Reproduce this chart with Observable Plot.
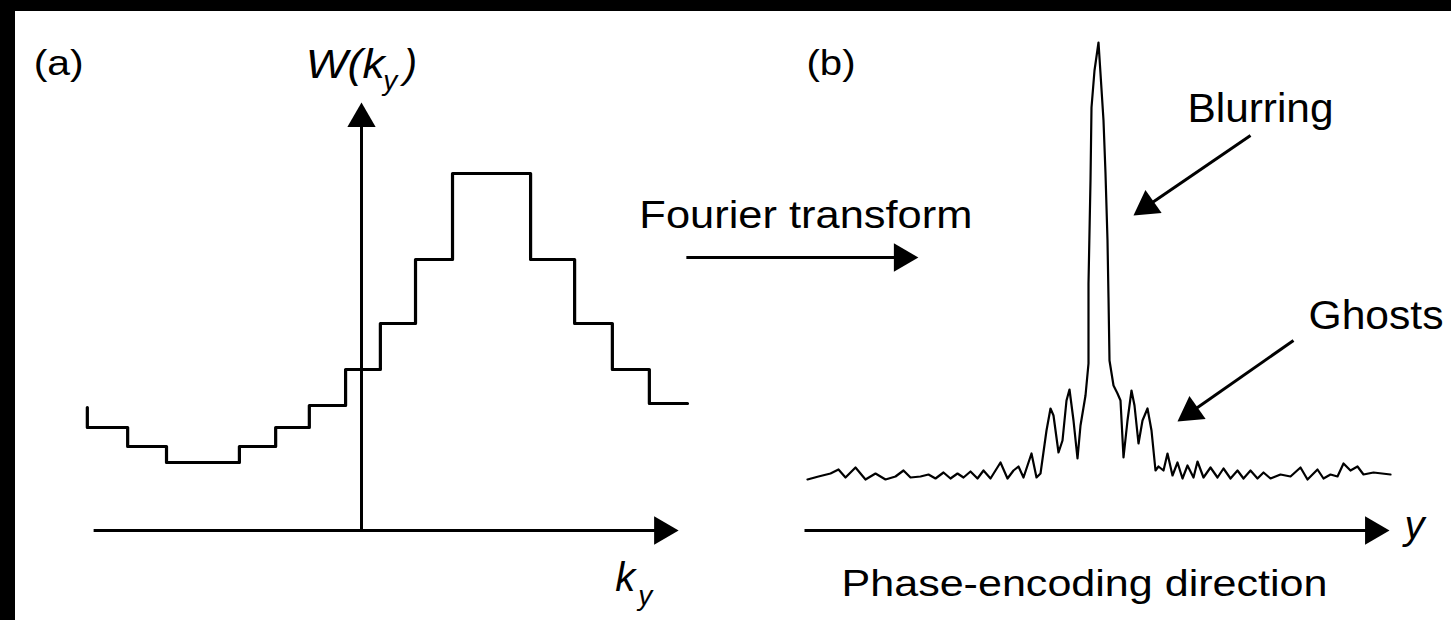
<!DOCTYPE html>
<html><head><meta charset="utf-8">
<script src="https://cdn.jsdelivr.net/npm/d3@7"></script>
<script src="https://cdn.jsdelivr.net/npm/@observablehq/plot@0.6"></script>
<style>
html,body{margin:0;padding:0;background:#000;width:1451px;height:620px;overflow:hidden;}
#paper{position:absolute;left:15px;top:11px;width:1436px;height:609px;background:#fff;}
#a{position:absolute;left:-9px;top:0;}
#b{position:absolute;left:780px;top:0;}
svg{overflow:visible;}
</style></head><body>
<div id="paper"></div>
<div id="a"></div><div id="b"></div>
<script>
// ---- Panel (a): stepped weighting function W(k_y) ----
const stepK = [-7.41, -7.41, -6.32, -5.27, -3.30, -2.32, -1.41, -0.43, 0.51, 1.46, 2.46, 4.57, 5.76, 6.78, 7.78, 8.81];
const stepW = [12.3, 10.3, 8.4, 6.8, 8.4, 10.3, 12.5, 16.1, 20.7, 27.1, 35.7, 27.1, 20.7, 16.1, 12.7, 12.7];

// ---- Panel (b): point-spread profile along phase-encoding direction ----
const signalP = [-29.3,-28.2,-27.0,-26.2,-25.5,-24.5,-23.5,-22.5,-21.5,-20.5,-19.7,-19.0,-18.0,-17.2,-16.5,-15.7,-15.0,-14.3,-13.7,-13.0,-12.3,-11.7,-11.0,-10.0,-9.3,-8.7,-8.2,-7.7,-6.9,-6.4,-6.0,-5.4,-5.0,-4.7,-4.2,-3.8,-3.4,-3.1,-2.7,-2.3,-2.0,-1.5,-1.2,-1.2,-1.0,-0.9,-0.6,-0.2,0.0,0.3,0.5,0.7,0.8,0.9,1.3,1.7,2.0,2.3,2.7,3.1,3.4,3.8,4.2,4.7,5.1,5.5,5.8,6.3,6.7,7.2,7.7,8.2,8.7,9.3,9.7,10.3,11.0,11.7,12.3,13.0,13.7,14.3,15.0,15.7,16.3,17.0,18.0,19.0,20.0,20.7,21.7,22.3,23.0,23.7,24.3,25.0,25.7,26.3,27.3,29.0];
const signalA = [5.1,5.4,5.7,6.1,5.3,6.3,5.1,5.7,5.1,5.4,6.0,5.3,5.4,5.6,5.2,5.8,5.2,5.7,5.3,5.9,5.2,6.0,5.2,6.8,5.2,6.0,6.4,5.3,7.7,5.3,5.7,10.0,12.2,11.5,7.8,9.0,13.0,14.1,11.0,7.2,10.5,13.5,16.7,24.7,35.0,42.3,46.0,48.8,45.7,41.0,35.7,29.0,23.3,17.0,14.5,13.7,13.0,7.3,11.0,14.0,12.5,8.7,11.0,12.2,10.0,6.0,6.4,6.0,7.7,5.5,6.8,5.2,6.5,5.3,6.9,5.3,6.3,5.3,6.2,5.2,6.0,5.2,6.0,5.2,5.8,5.2,5.6,5.4,6.3,5.1,6.1,5.2,5.6,5.4,6.7,6.0,6.4,5.6,5.8,5.6];

// ---- Axes / arrows (start x, start y, tip x, tip y, head rotation) ----
const axisA = {x1: [-7.24, 0], y1: [0, 0], x2: [8.57, 0], y2: [0, 42.8], rot: [90, 0]};
const fourierArrow = {x1: [8.78], y1: [27.3], x2: [15.05], y2: [27.3], rot: [90]};
const axisB = {x1: [-29.6], y1: [0], x2: [28.9], y2: [0], rot: [90]};
const calloutArrows = {x1: [15.0, 19.3], y1: [39.5, 19.0], x2: [3.3, 7.7], y2: [31.5, 10.9], rot: [235, 235]};

// ---- Text labels ----
const labelsA = {text: ["(a)", "W(k", ")", "Fourier transform"], x: [-8.86, -1.51, 1.14, 7.51], y: [45.6, 45.3, 45.3, 30.3]};
const subsA = {text: ["y", "y"], x: [0.59, 7.48], y: [44.1, -7.4]};
const kLabel = {text: ["k"], x: [6.86], y: [-6.0]};
const labelsB = {text: ["(b)", "Blurring", "Ghosts", "Phase-encoding direction"], x: [-29.4, 8.7, 20.8, -25.9], y: [45.6, 40.9, 20.2, -6.5]};
const yLabelB = {text: ["y"], x: [30.4], y: [-0.8]};

const textLengths = {"(a)": 50, "(b)": 49, "W(k": 79, "Fourier transform": 333, "Blurring": 146, "Ghosts": 135, "Phase-encoding direction": 486};

const FONT = "Liberation Sans, Arial, Helvetica, sans-serif";
const rows = o => o[Object.keys(o)[0]].map((_, i) => Object.fromEntries(Object.keys(o).map(k => [k, o[k][i]])));

function arrowMarks(spec, width) {
  const R = 10.5, tipOff = 16.3;
  const out = [Plot.arrow(rows(spec), {x1: "x1", y1: "y1", x2: "x2", y2: "y2", headLength: 0, insetEnd: 14, stroke: "black", strokeWidth: width, strokeLinecap: "butt"})];
  for (const r of rows(spec)) {
    const th = r.rot * Math.PI / 180;
    out.push(Plot.dot([r], {x: "x2", y: "y2", symbol: "triangle", r: R, rotate: r.rot, fill: "black", stroke: "none",
      dx: -tipOff * Math.sin(th), dy: tipOff * Math.cos(th)}));
  }
  return out;
}

function textMarks(spec, size, italic) {
  return Plot.text(rows(spec), {x: "x", y: "y", text: "text", textAnchor: "start", lineAnchor: "bottom",
    fontSize: size, fontFamily: FONT, fontStyle: italic ? "italic" : "normal", fill: "black"});
}

function finish(svg) {
  d3.select(svg).selectAll("text").each(function() {
    const L = textLengths[this.textContent];
    if (L) { this.setAttribute("textLength", L); this.setAttribute("lengthAdjust", "spacingAndGlyphs"); }
  });
  return svg;
}

const stepPts = stepK.map((k, i) => ({k, w: stepW[i]}));
const plotA = Plot.plot({
  width: 999, height: 620, margin: 0,
  x: {domain: [-10, 17], axis: null},
  y: {domain: [-9, 53], axis: null},
  style: {background: "transparent", overflow: "visible"},
  marks: [
    Plot.line(stepPts, {x: "k", y: "w", curve: "step-after", stroke: "black", strokeWidth: 3.2}),
    ...arrowMarks(axisA, 3),
    ...arrowMarks(fourierArrow, 3),
    Plot.text(rows(labelsA).filter(d => d.text === "(a)" || d.text === "Fourier transform"), {x: "x", y: "y", text: "text", textAnchor: "start", lineAnchor: "bottom", fontSize: d => d.text === "(a)" ? 35 : 38, fontFamily: FONT, fill: "black"}),
    Plot.text(rows(labelsA).filter(d => d.text === "W(k" || d.text === ")"), {x: "x", y: "y", text: "text", textAnchor: "start", lineAnchor: "bottom", fontSize: 40, fontFamily: FONT, fontStyle: "italic", fill: "black"}),
    textMarks(subsA, 28, true),
    textMarks(kLabel, 40, true)
  ]
});
document.getElementById("a").appendChild(finish(plotA));

const sigPts = signalP.map((p, i) => ({p, a: signalA[i]}));
const plotB = Plot.plot({
  width: 671, height: 620, margin: 0,
  x: {domain: [-32, 35.1], axis: null},
  y: {domain: [-9, 53], axis: null},
  style: {background: "transparent", overflow: "visible"},
  marks: [
    Plot.line(sigPts, {x: "p", y: "a", stroke: "black", strokeWidth: 2.2, curve: "linear"}),
    ...arrowMarks(axisB, 3),
    ...arrowMarks(calloutArrows, 3),
    Plot.text(rows(labelsB), {x: "x", y: "y", text: "text", textAnchor: "start", lineAnchor: "bottom",
      fontSize: d => d.text === "(b)" ? 35 : d.text === "Phase-encoding direction" ? 36 : 40, fontFamily: FONT, fill: "black"}),
    textMarks(yLabelB, 40, true)
  ]
});
document.getElementById("b").appendChild(finish(plotB));
</script></body></html>
